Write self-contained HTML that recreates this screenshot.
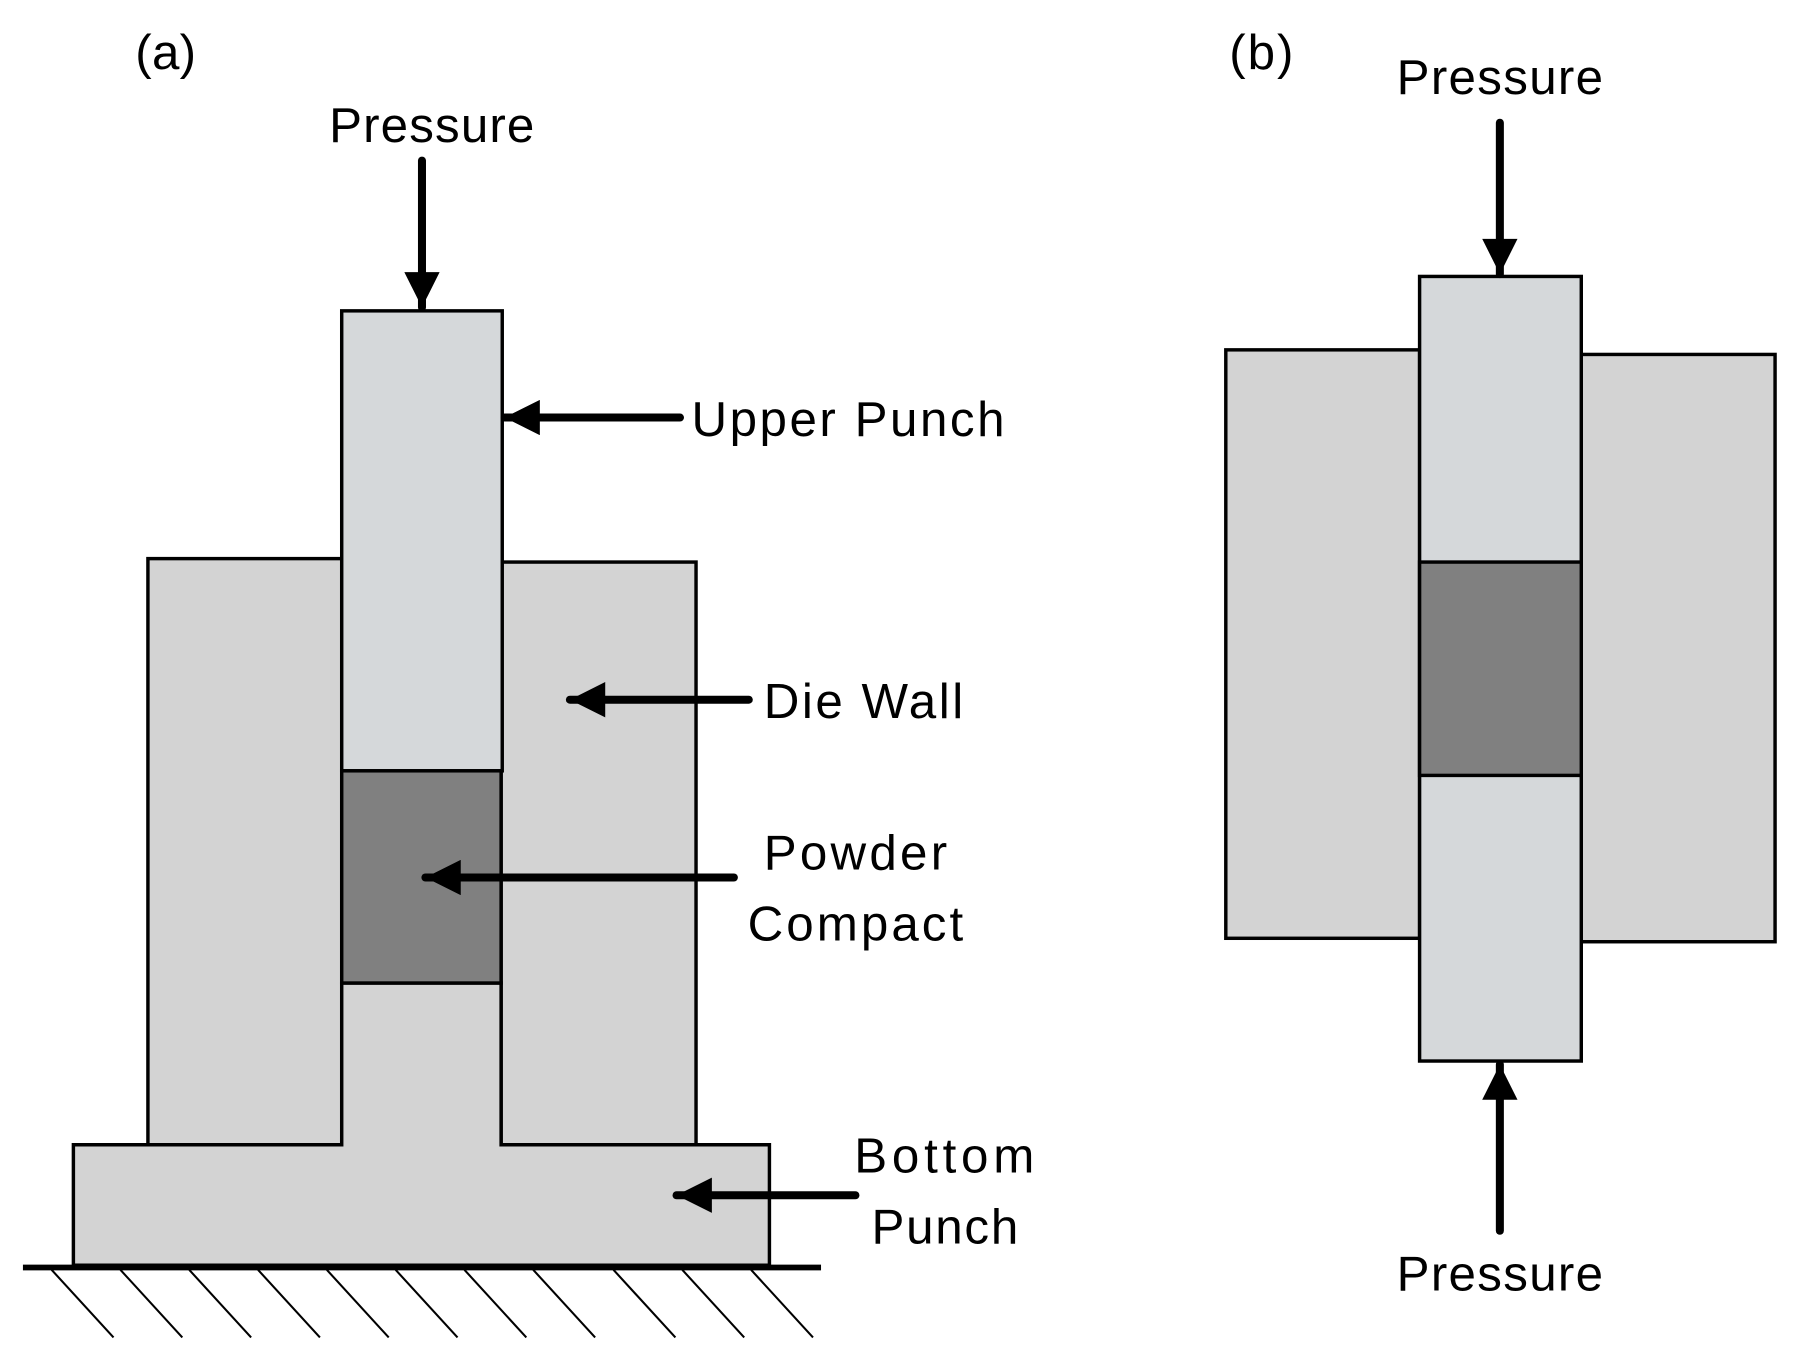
<!DOCTYPE html>
<html><head><meta charset="utf-8"><style>html,body{margin:0;padding:0;background:#fff}svg{display:block}</style></head>
<body>
<svg width="1798" height="1365" viewBox="0 0 1568 1190" preserveAspectRatio="none" xmlns="http://www.w3.org/2000/svg" font-family="Liberation Sans, sans-serif" font-size="43" fill="#000">
<defs>
<marker id="ah" viewBox="0 0 10 10" refX="10" refY="5" markerWidth="6.2" markerHeight="4.4" orient="auto" markerUnits="strokeWidth"><path d="M0,0 L10,5 L0,10 z" fill="#000"/></marker>
</defs>
<g stroke="#000" stroke-width="3">
<rect x="129" y="487" width="169" height="511" fill="#d3d3d3"/>
<rect x="437" y="490" width="170" height="508" fill="#d3d3d3"/>
<path d="M64,998 L298,998 L298,857 L437,857 L437,998 L671,998 L671,1103 L64,1103 Z" fill="#d3d3d3"/>
<rect x="298" y="271" width="140" height="401" fill="#d5d8da"/>
<rect x="298" y="672" width="139" height="185" fill="#808080"/>
<line x1="20" y1="1105" x2="716" y2="1105" stroke-width="5"/>
<rect x="1069" y="305" width="169" height="513" fill="#d3d3d3"/>
<rect x="1379" y="309" width="169" height="512" fill="#d3d3d3"/>
<rect x="1238" y="241" width="141" height="684" fill="#d5d8da"/>
<rect x="1238" y="490" width="141" height="186" fill="#808080"/>
</g>
<g stroke="#000" stroke-width="1.8">
<line x1="45" y1="1107" x2="99" y2="1166"/><line x1="105" y1="1107" x2="159" y2="1166"/><line x1="165" y1="1107" x2="219" y2="1166"/><line x1="225" y1="1107" x2="279" y2="1166"/><line x1="285" y1="1107" x2="339" y2="1166"/><line x1="345" y1="1107" x2="399" y2="1166"/><line x1="405" y1="1107" x2="459" y2="1166"/><line x1="465" y1="1107" x2="519" y2="1166"/><line x1="535" y1="1107" x2="589" y2="1166"/><line x1="595" y1="1107" x2="649" y2="1166"/><line x1="655" y1="1107" x2="709" y2="1166"/>
</g>
<g stroke="#000" stroke-width="7" marker-end="url(#ah)" stroke-linecap="round">
<line x1="368" y1="140" x2="368" y2="268"/>
<line x1="593" y1="364" x2="440" y2="364"/>
<line x1="653" y1="610" x2="497" y2="610"/>
<line x1="640" y1="765" x2="371" y2="765"/>
<line x1="746" y1="1042" x2="590" y2="1042"/>
<line x1="1308" y1="107" x2="1308" y2="239"/>
<line x1="1308" y1="1073" x2="1308" y2="928"/>
</g>
<text x="118" y="60" textLength="53">(a)</text>
<text x="287" y="124" textLength="179">Pressure</text>
<text x="603" y="380" textLength="273">Upper Punch</text>
<text x="666" y="626" textLength="174">Die Wall</text>
<text x="666" y="758" textLength="160">Powder</text>
<text x="652" y="820" textLength="188">Compact</text>
<text x="745" y="1022" textLength="157">Bottom</text>
<text x="760" y="1084" textLength="128">Punch</text>
<text x="1072" y="60" textLength="56">(b)</text>
<text x="1218" y="82" textLength="180">Pressure</text>
<text x="1218" y="1125" textLength="180">Pressure</text>
</svg>
</body></html>
